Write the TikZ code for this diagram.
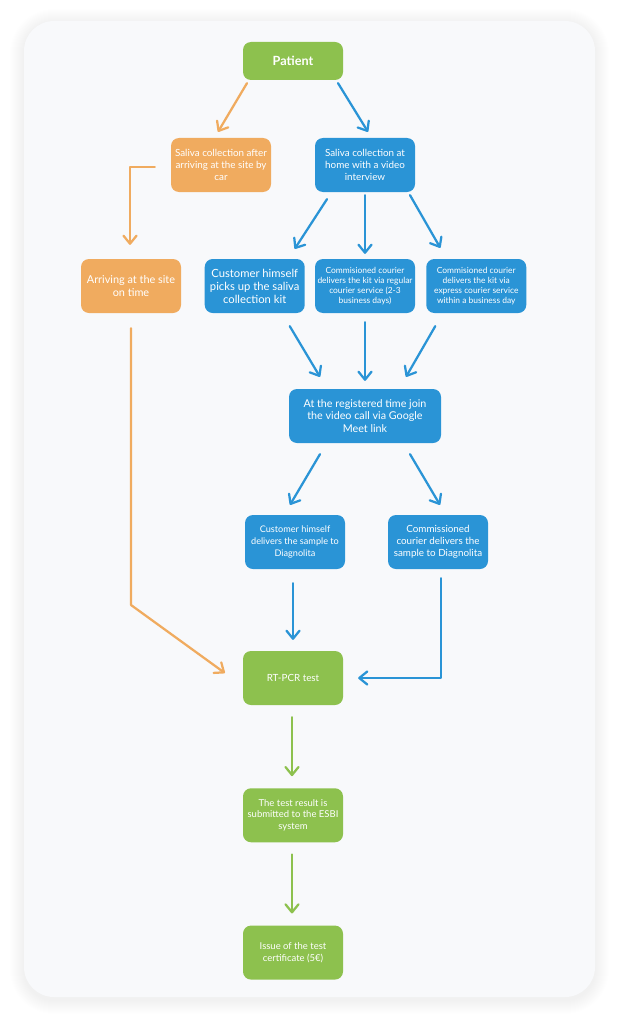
\documentclass[tikz,border=0pt]{standalone}
\usepackage{fontspec}
\setmainfont{Lato}
\usepackage{tikz}
\usetikzlibrary{arrows.meta,positioning,calc}

\definecolor{boxgreen}{HTML}{8DC14E}
\definecolor{boxorange}{HTML}{F0AB5F}
\definecolor{boxblue}{HTML}{2A94D6}
\definecolor{panelgray}{HTML}{F8F9FB}

\begin{document}
\begin{tikzpicture}[x=0.5mm, y=-0.5mm,
  basenode/.style={rectangle, rounded corners=4mm, text=white, minimum width=50mm, minimum height=27mm, align=center, inner sep=1mm, font=\fontsize{13.5}{17}\selectfont},
  greennode/.style={basenode, fill=boxgreen},
  orangenode/.style={basenode, fill=boxorange},
  bluenode/.style={basenode, fill=boxblue},
  baseline/.style={line width=3.2pt, line cap=round, line join=round, -{Straight Barb[length=4mm, width=6.5mm, round]}},
  greenline/.style={baseline, draw=boxgreen},
  orangeline/.style={baseline, draw=boxorange},
  blueline/.style={baseline, draw=boxblue},
]

% Background
\fill[white] (0,0) rectangle (619,1024);
\useasboundingbox (0,0) rectangle (619,1024);
\foreach \s in {1,...,14}
  \fill[black, fill opacity=0.004, rounded corners=15mm+\s*0.5mm] (24-\s,21-\s+2) rectangle (595+\s,997+\s+3);
\fill[panelgray, rounded corners=15mm] (24,21) rectangle (595,997);

% Nodes
\node[greennode, minimum height=19mm, font=\bfseries\fontsize{18}{21}\selectfont] (patient) at (293,61) {Patient};
\node[orangenode, font=\fontsize{14}{17}\selectfont] (carsite) at (221,165) {Saliva collection after\\arriving at the site by\\car};
\node[bluenode, font=\fontsize{14}{17}\selectfont] (homevideo) at (365,165) {Saliva collection at\\home with a video\\interview};

\node[orangenode, font=\fontsize{15.5}{18}\selectfont] (arrive) at (131,286) {Arriving at the site\\on time};
\node[bluenode, font=\fontsize{12}{14}\selectfont] (regular) at (365,286) {Commisioned courier\\delivers the kit via regular\\courier service (2-3\\business days)};
\node[bluenode, font=\fontsize{16}{18.5}\selectfont] (selfpick) [left=5mm of regular] {Customer himself\\picks up the saliva\\collection kit};
\node[bluenode, font=\fontsize{12}{14}\selectfont] (express) [right=5.5mm of regular] {Commisioned courier\\delivers the kit via\\express courier service\\within a business day};

\node[bluenode, minimum width=76mm, font=\fontsize{15.3}{18}\selectfont] (videocall) at (365,416) {At the registered time join\\the video call via Google\\Meet link};

\node[bluenode, font=\fontsize{13}{16.5}\selectfont] (selfdeliver) at (295,542) {Customer himself\\delivers the sample to\\Diagnolita};
\node[bluenode, font=\fontsize{14}{17}\selectfont] (courierdeliver) at (438,542) {Commissioned\\courier delivers the\\sample to Diagnolita};

\node[greennode, font=\fontsize{14}{17}\selectfont] (pcr) at (293,678) {RT-PCR test};
\node[greennode] (esbi) [below=41.5mm of pcr] {The test result is\\submitted to the ESBI\\system};
\node[greennode] (certificate) [below=41.5mm of esbi] {Issue of the test\\certificate (5€)};

\coordinate (sitebend) at (131,605);

% Lines
\draw[orangeline] ($(patient.south)+(-46,3)$) -- ($(carsite.north)+(-3,-6)$);
\draw[blueline] ($(patient.south)+(45,3)$) -- ($(homevideo.north)+(3,-6)$);
\draw[orangeline] ($(carsite.west)+(-16,2)$) -| ($(arrive.north)+(-1,-14)$);

\draw[blueline] ($(homevideo.south)+(-38,7)$) -- ($(selfpick.north)+(40,-10)$);
\draw[blueline] ($(homevideo.south)+(0,3)$) -- ($(regular.north)+(0,-5)$);
\draw[blueline] ($(homevideo.south)+(45,3)$) -- ($(express.north)+(-36,-11)$);

\draw[blueline] ($(selfpick.south)+(35,13)$) -- ($(videocall.north)+(-45,-12)$);
\draw[blueline] ($(regular.south)+(0,9)$) -- ($(videocall.north)+(0,-8)$);
\draw[blueline] ($(express.south)+(-41,13)$) -- ($(videocall.north)+(41,-12)$);

\draw[blueline] ($(videocall.south)+(-45,11)$) -- ($(selfdeliver.north)+(-5,-10)$);
\draw[blueline] ($(videocall.south)+(45,11)$) -- ($(courierdeliver.north)+(2,-10)$);

\draw[blueline] ($(selfdeliver.south)+(-2,14)$) -- ($(pcr.north)+(0,-11)$);
\draw[blueline] ($(courierdeliver.south)+(3,9)$) |- ($(pcr.east)+(15,0)$);
\draw[orangeline] ($(arrive.south)+(0,15)$) -- (sitebend) -- ($(pcr.west)+(-18,-5)$);

\draw[greenline] ($(pcr.south)+(-1,12)$) -- ($(esbi.north)+(-1,-12)$);
\draw[greenline] ($(esbi.south)+(-1,12)$) -- ($(certificate.north)+(-1,-12)$);

\end{tikzpicture}
\end{document}
